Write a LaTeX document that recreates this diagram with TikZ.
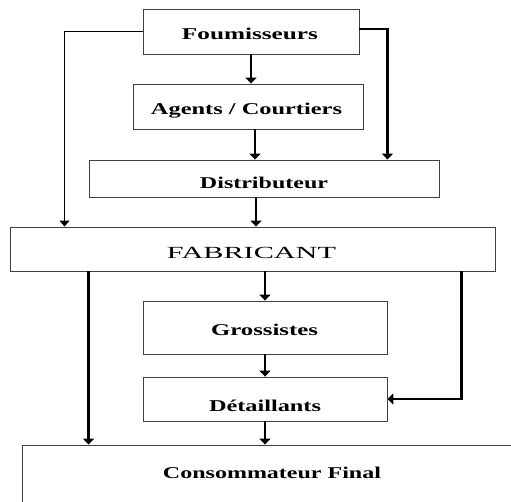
\documentclass[tikz,border=0pt]{standalone}
\usepackage{fontspec}
\setmainfont{Liberation Serif}
\usetikzlibrary{arrows.meta,calc}
\begin{document}
\begin{tikzpicture}[x=1pt,y=-1pt,
  box/.style={draw=black!75,line width=0.9pt,inner sep=0pt,rectangle},
  txt/.style={anchor=base,inner sep=0pt,font=\fontsize{16.5}{19}\selectfont},
  conn/.style={line width=2.2pt,-{Triangle[length=6pt,width=11pt]}},
  thinconn/.style={line width=1.4pt,-{Triangle[length=6pt,width=10pt]}}]
\clip (0,0) rectangle (511,501);
\fill[white] (0,0) rectangle (511,501);
% boxes
\node[box,minimum width=216pt,minimum height=45pt] (four) at (251,31.5) {};
\node[box,minimum width=230pt,minimum height=45pt] (agents) at (248,106.5) {};
\node[box,minimum width=350pt,minimum height=37pt] (distr) at (264,178.5) {};
\node[box,minimum width=485pt,minimum height=44pt] (fab) at (252.5,249) {};
\node[box,minimum width=244pt,minimum height=53pt] (gross) at (265,327.5) {};
\node[box,minimum width=244pt,minimum height=44pt] (detail) at (265,399) {};
\node[box,minimum width=520pt,minimum height=80pt] (conso) at (282,485) {};
% texts
\node[txt] (t1) at (250,39.5) {\resizebox{136pt}{\height}{\textbf{Foumisseurs}}};
\node[txt] (t2) at (246.5,114) {\resizebox{191pt}{\height}{\textbf{Agents / Courtiers}}};
\node[txt] (t3) at (264,188.5) {\resizebox{128pt}{\height}{\textbf{Distributeur}}};
\node[txt,font=\fontsize{17}{20}\selectfont] (t4) at (251.5,258) {\resizebox{169pt}{\height}{FABRICANT}};
\node[txt] (t5) at (264.5,335.5) {\resizebox{107pt}{\height}{\textbf{Grossistes}}};
\node[txt] (t6) at (265,411.5) {\resizebox{112pt}{\height}{\textbf{Détaillants}}};
\node[txt] (t7) at (272,478) {\resizebox{218pt}{\height}{\textbf{Consommateur Final}}};
% connector anchor points
\coordinate (fl) at ($(fab.south west)+(79,0)$);
\coordinate (fr) at ($(fab.south east)+(-34,0)$);
\coordinate (ftl) at ($(fab.north west)+(55,0)$);
\coordinate (dtr) at ($(distr.north east)+(-52,0)$);
% connectors
\draw[conn] (four.south) -- (four.south |- agents.north);
\draw[conn] ([xshift=7pt]agents.south) -- ([xshift=7pt]agents.south |- distr.north);
\draw[thinconn] (four.west) -| (ftl);
\draw[conn] ([yshift=2.5pt]four.east) -| (dtr);
\draw[conn] ([xshift=-8pt]distr.south) -- ([xshift=-8pt]distr.south |- fab.north);
\draw[conn] (gross.north |- fab.south) -- (gross.north);
\draw[conn] (fl) -- (fl |- conso.north);
\draw[conn] (fr) |- (detail.east);
\draw[conn] (gross.south) -- (detail.north);
\draw[conn] (detail.south) -- (detail.south |- conso.north);
\end{tikzpicture}
\end{document}
